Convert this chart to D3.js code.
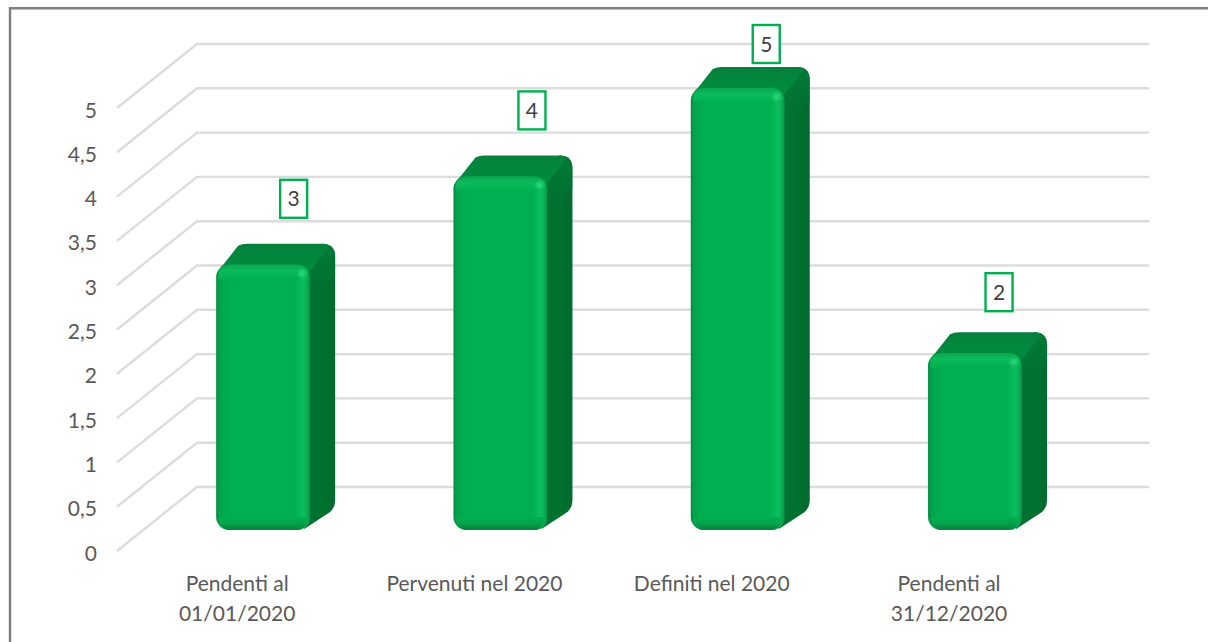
<!DOCTYPE html>
<html><head><meta charset="utf-8">
<script src="https://cdn.jsdelivr.net/npm/d3@7"></script>
<style>html,body{margin:0;padding:0;background:#fff;overflow:hidden}svg{display:block}text{font-family:Lato,"Open Sans",sans-serif}</style>
</head><body><script>
const categories = [["Pendenti al","01/01/2020"],["Pervenuti nel 2020"],["Definiti nel 2020"],["Pendenti al","31/12/2020"]];
const values = [3,4,5,2];
const ticks = [0,0.5,1,1.5,2,2.5,3,3.5,4,4.5,5];
const W=1208,H=642;
const svg=d3.select("body").append("svg").attr("width",W).attr("height",H);
const defs=svg.append("defs");
function grad(id,stops,dir){const g=defs.append("linearGradient").attr("id",id);
 if(dir==="v"){g.attr("x1",0).attr("y1",0).attr("x2",0).attr("y2",1)}else{g.attr("x1",0).attr("y1",0).attr("x2",1).attr("y2",0)}
 stops.forEach(s=>g.append("stop").attr("offset",s[0]).attr("stop-color",s[1]));}
grad("hfront",[[0,"#068a44"],[.03,"#05a04c"],[.1,"#00ac4e"],[.18,"#00b050"],[.84,"#00b050"],[.93,"#0bbf5e"],[.98,"#08a550"],[1,"#078a44"]],"h");
grad("vtop",[[0,"#05803c"],[.6,"#008a3e"],[1,"#009243"]],"v");
grad("hside",[[0,"#006f32"],[.55,"#00722f"],[1,"#006a30"]],"h");
grad("vsideTop",[[0,"#007f3a"],[1,"#006f32"]],"v");
grad("topEdge",[[0,"#08a850"],[.45,"#0cba5c"],[1,"#00b050"]],"v");
grad("botEdge",[[0,"#00b050"],[.5,"#03a24b"],[.85,"#068a43"],[1,"#087a3c"]],"v");
const glow=defs.append("radialGradient").attr("id","glow");
glow.append("stop").attr("offset",0).attr("stop-color","#2fe07f").attr("stop-opacity",.9);
glow.append("stop").attr("offset",1).attr("stop-color","#2fe07f").attr("stop-opacity",0);

const y=d3.scaleLinear().domain([0,5]).range([551,108]);
const depthX=80, depthY=-64;
const barY=d3.scaleLinear().domain([0,5]).range([530,88]);
const x=d3.scaleBand().domain(d3.range(categories.length)).range([144.5,1093.7]);
const barW=94, sideX=25, sideY=21, catCx=-26;
const labelDx=[30.5,31.5,28.5,24], labelDy=[0,0,22,5], labelRise=66;
const grid=svg.append("g").attr("fill","none").attr("stroke","#dcdcdc").attr("stroke-width",2.4);
ticks.forEach(t=>{
 grid.append("path").attr("d",d3.line()([[117,y(t)],[117+depthX,y(t)+depthY],[1149,y(t)+depthY]]));
});
const ax=d3.axisLeft(y).tickValues(ticks).tickSize(0).tickFormat(d=>String(d).replace(".",","));
const axg=svg.append("g").attr("transform","translate(102,1.5)").call(ax);
axg.select(".domain").remove();
axg.selectAll("text").attr("x",-5).attr("dy","0.36em").attr("font-size",21).attr("fill","#595959")
 .style("font-family",'Lato,"Open Sans",sans-serif');
const center=i=>x(i)+x.bandwidth()/2;
const bars=svg.append("g").selectAll("g").data(values).join("g");
bars.each(function(v,i){
 const g=d3.select(this), l=center(i)-barW/2, r=l+barW, t=barY(v), b=barY(0), R=13;
 const tx=sideX, ty=sideY;
 g.append("path").attr("fill","url(#hside)").attr("d",`M${r-10},${t+2} L${r+tx-13},${t-ty} Q${r+tx},${t-ty} ${r+tx},${t-ty+13} L${r+tx},${b-ty-8} Q${r+tx},${b-ty-2} ${r+tx-5},${b-ty+3} L${r-6},${b-1} Z`);
 g.append("path").attr("fill","url(#vsideTop)").attr("d",`M${r-2},${t+8} L${r+tx-13},${t-ty} Q${r+tx},${t-ty} ${r+tx},${t-ty+13} L${r+tx},${t+12} L${r},${t+30} Z`).attr("opacity",.7);
 g.append("path").attr("fill","url(#vtop)").attr("d",`M${l},${t+12} Q${l+1},${t+5} ${l+7},${t} L${l+tx-3},${t-ty+2} Q${l+tx+1},${t-ty} ${l+tx+6},${t-ty} L${r+tx-13},${t-ty} Q${r+tx-4},${t-ty} ${r+tx-8},${t-ty+6} L${r-2},${t+8} L${r-8},${t+4} Z`);
 g.append("rect").attr("x",l).attr("y",t).attr("width",barW).attr("height",b-t).attr("rx",R).attr("ry",R).attr("fill","url(#hfront)");
 g.append("path").attr("fill","url(#topEdge)").attr("d",`M${l+2},${t+14} Q${l+2},${t} ${l+14},${t} L${r-14},${t} Q${r-2},${t} ${r-2},${t+14} Z`);
 g.append("path").attr("fill","url(#botEdge)").attr("d",`M${l+3},${b-13} L${r-3},${b-13} Q${r-3},${b} ${r-14},${b} L${l+14},${b} Q${l+3},${b} ${l+3},${b-13} Z`);
 g.append("circle").attr("cx",r-8).attr("cy",t+9).attr("r",6).attr("fill","url(#glow)");
 const cx=center(i)+labelDx[i], ly=t-labelRise+labelDy[i];
 g.append("rect").attr("x",cx-13.5).attr("y",ly-19).attr("width",27).attr("height",38).attr("fill","#fff").attr("stroke","#00b050").attr("stroke-width",2.4);
 g.append("text").attr("x",cx).attr("y",ly).attr("dy","0.36em").attr("text-anchor","middle").attr("font-size",21).attr("fill","#404040").text(v);
 categories[i].forEach((s,j)=>g.append("text").attr("x",center(i)+catCx).attr("y",583+j*30).attr("dy","0.36em").attr("text-anchor","middle").attr("font-size",21).attr("fill","#595959").text(s));
});
svg.append("path").attr("fill","none").attr("stroke","#7f7f7f").attr("stroke-width",2.4).attr("d",`M10,${H} V8.2 H1208`);
</script></body></html>
